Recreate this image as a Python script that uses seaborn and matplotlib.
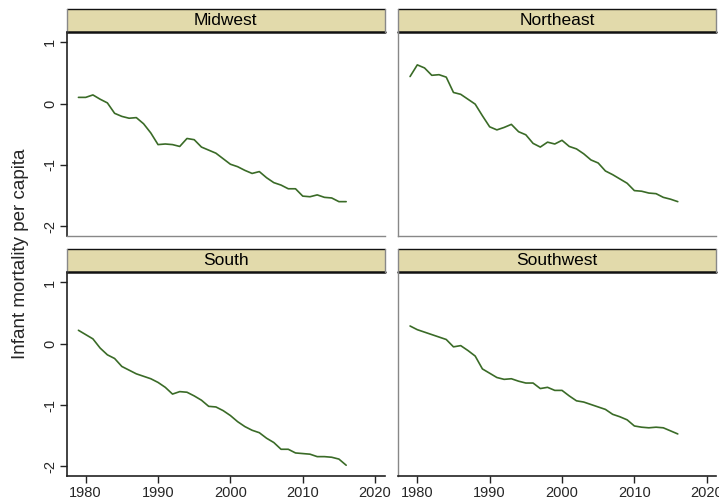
import seaborn as sns
import matplotlib.pyplot as plt
import matplotlib.patches as mpatches
import pandas as pd

years = list(range(1979, 2017))

midwest = [0.10, 0.10, 0.14, 0.07, 0.01, -0.16, -0.21, -0.24, -0.23, -0.33,
           -0.48, -0.67, -0.66, -0.67, -0.70, -0.57, -0.59, -0.71, -0.76, -0.81,
           -0.90, -0.99, -1.03, -1.09, -1.14, -1.11, -1.21, -1.29, -1.33, -1.39,
           -1.39, -1.51, -1.52, -1.49, -1.53, -1.54, -1.60, -1.60]
northeast = [0.44, 0.63, 0.58, 0.46, 0.47, 0.43, 0.18, 0.15, 0.07, -0.01,
             -0.20, -0.38, -0.43, -0.39, -0.34, -0.46, -0.51, -0.65, -0.71, -0.63,
             -0.66, -0.60, -0.70, -0.74, -0.82, -0.92, -0.97, -1.10, -1.16, -1.23,
             -1.30, -1.42, -1.43, -1.46, -1.47, -1.53, -1.56, -1.60]
south = [0.22, 0.15, 0.08, -0.07, -0.18, -0.24, -0.37, -0.43, -0.49, -0.53,
         -0.57, -0.63, -0.71, -0.82, -0.78, -0.79, -0.85, -0.92, -1.02, -1.03,
         -1.09, -1.17, -1.27, -1.35, -1.41, -1.45, -1.54, -1.61, -1.72, -1.72,
         -1.78, -1.79, -1.80, -1.84, -1.84, -1.85, -1.88, -1.98]
southwest = [0.29, 0.23, 0.19, 0.15, 0.11, 0.07, -0.05, -0.03, -0.11, -0.20,
             -0.41, -0.48, -0.55, -0.58, -0.57, -0.61, -0.64, -0.64, -0.73, -0.71,
             -0.76, -0.76, -0.85, -0.93, -0.95, -0.99, -1.03, -1.07, -1.15, -1.19,
             -1.24, -1.34, -1.36, -1.37, -1.36, -1.37, -1.42, -1.47]

regions = ['Midwest', 'Northeast', 'South', 'Southwest']
x_ticks = [1980, 1990, 2000, 2010, 2020]
y_ticks = [-2, -1, 0, 1]

df = pd.DataFrame({
    'year': years * 4,
    'value': midwest + northeast + south + southwest,
    'region': [r for r in regions for _ in years],
})

sns.set_style('white')
plt.rcParams['font.family'] = ['Liberation Sans', 'DejaVu Sans']
plt.rcParams['axes.unicode_minus'] = False  # plain hyphen like the original

line_color = '#3a6b27'
g = sns.relplot(data=df, x='year', y='value', col='region', col_wrap=2,
                kind='line', color=line_color, linewidth=1.2,
                col_order=regions, height=2.5, aspect=1.4)
g.figure.set_size_inches(7.19, 5.01)
g.figure.subplots_adjust(left=0.093, right=0.996, top=0.936, bottom=0.050,
                         wspace=0.044, hspace=0.18)
g.set_titles('')
g.set_axis_labels('', '')
g.set(xlim=(1977.4, 2021.3), ylim=(-2.155, 1.165), xticks=x_ticks, yticks=y_ticks)

strip_h = 23 / 204
for i, (ax, name) in enumerate(zip(g.axes.flat, regions)):
    col = i % 2
    row = i // 2
    for s in ax.spines.values():
        s.set_color('#888888')
        s.set_linewidth(1.0)
    if col == 0:
        ax.spines['left'].set_color('#222222')
        ax.spines['left'].set_linewidth(1.2)
    if row == 1:
        ax.spines['bottom'].set_color('#222222')
        ax.spines['bottom'].set_linewidth(1.2)
    ax.tick_params(axis='both', direction='out', length=5, width=1,
                   color='#222222', labelsize=10.5, pad=2)
    ax.tick_params(left=(col == 0), bottom=(row == 1))
    if col == 0:
        for lab in ax.get_yticklabels():
            lab.set_rotation(90)
            lab.set_va('center')
    # strip header
    rect = mpatches.Rectangle((0, 1), 1, strip_h, transform=ax.transAxes,
                              facecolor='#e2daab', edgecolor='none', clip_on=False)
    ax.add_patch(rect)
    ax.plot([0, 1], [1 + strip_h, 1 + strip_h], transform=ax.transAxes,
            color='#111111', lw=1.0, clip_on=False)
    ax.plot([0, 1], [1, 1], transform=ax.transAxes,
            color='#111111', lw=1.8, clip_on=False)
    ax.plot([0, 0], [1, 1 + strip_h], transform=ax.transAxes,
            color='#888888', lw=1.0, clip_on=False)
    ax.plot([1, 1], [1, 1 + strip_h], transform=ax.transAxes,
            color='#888888', lw=1.0, clip_on=False)
    ax.text(0.5, 1 + strip_h / 2, name, transform=ax.transAxes,
            ha='center', va='center', fontsize=12.5, color='black')

g.figure.text(0.028, 0.493, 'Infant mortality per capita', rotation=90,
              ha='center', va='center', fontsize=13.5)

plt.savefig('out.png', dpi=100)
